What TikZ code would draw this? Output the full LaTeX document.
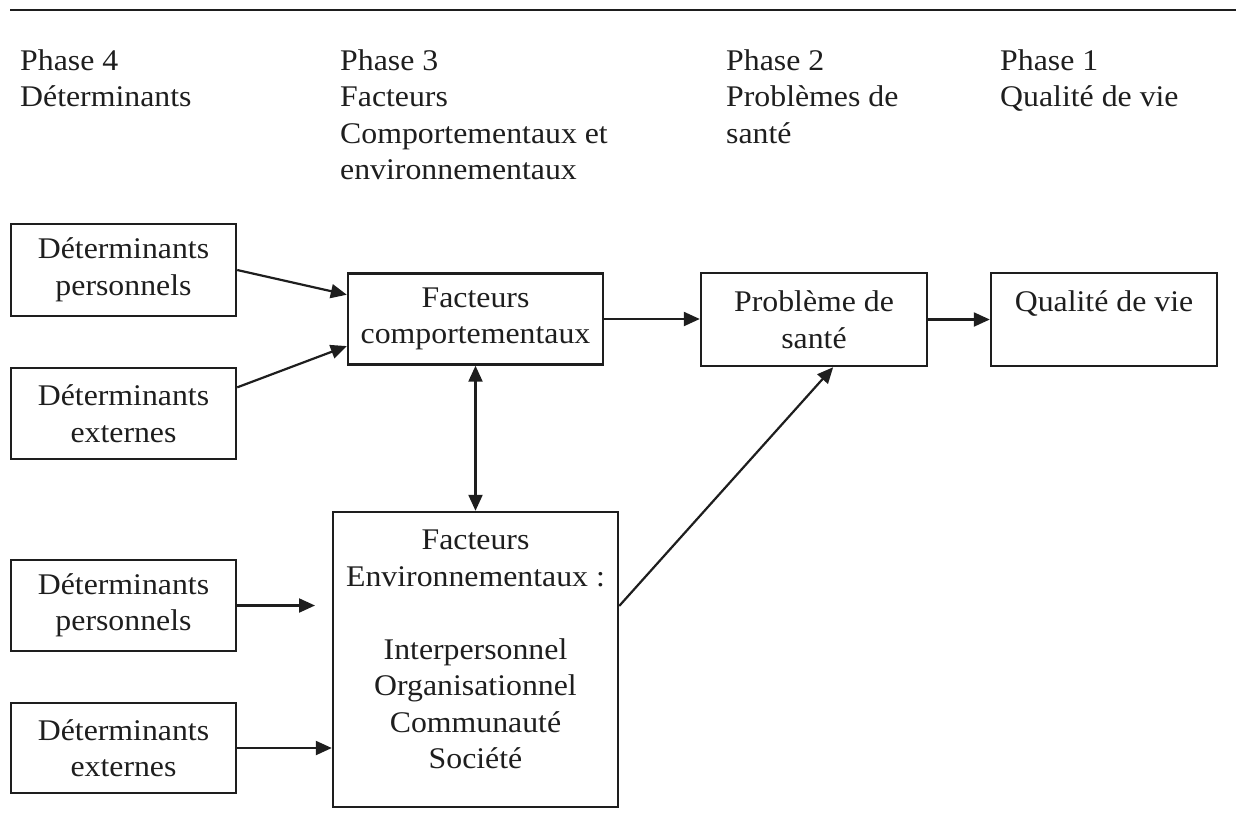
\documentclass[tikz,border=0pt]{standalone}
\usepackage{fontspec}
\setmainfont{Liberation Serif}[FakeStretch=1.06]
\usetikzlibrary{arrows.meta,calc}
\definecolor{ink}{RGB}{30,30,30}
\tikzset{
  txt/.style={font=\fontsize{30}{36.5}\selectfont, text=ink},
  hdr/.style={txt, align=left, anchor=north west, inner sep=0pt},
  boxn/.style={txt, draw=ink, line width=2.4pt, align=center, inner sep=0pt},
  conn/.style={draw=ink, line width=2.2pt, -{Triangle[length=16pt,width=14pt]}},
  dconn/.style={draw=ink, line width=2.2pt, {Triangle[length=16pt,width=14pt]}-{Triangle[length=16pt,width=14pt]}}
}
\begin{document}
\begin{tikzpicture}[x=1pt,y=-1pt]
\useasboundingbox (0,0) rectangle (1236,839);
\coordinate (r1) at (10,10);
\coordinate (r2) at (1236,10);
\draw[ink, line width=2.8pt] (r1) -- (r2);

\node[hdr] (h4) at (20,44.5) {\strut Phase 4\\Déterminants};
\node[hdr] (h3) at (340,44.5) {\strut Phase 3\\Facteurs\\Comportementaux et\\environnementaux};
\node[hdr] (h2) at (726,44.5) {\strut Phase 2\\Problèmes de\\santé};
\node[hdr] (h1) at (1000,44.5) {\strut Phase 1\\Qualité de vie};

\node[boxn, minimum width=225pt, minimum height=92pt] (dp1) at (123.5,270) {Déterminants\\personnels};
\node[boxn, minimum width=225pt, minimum height=91pt] (de1) at (123.5,413.5) {Déterminants\\externes};
\node[boxn, minimum width=225pt, minimum height=91pt] (dp2) at (123.5,605.5) {Déterminants\\personnels};
\node[boxn, minimum width=225pt, minimum height=90pt] (de2) at (123.5,748) {Déterminants\\externes};
\node[boxn, minimum width=255pt, minimum height=91pt] (fc) at (475.5,319) {Facteurs\\comportementaux};
\node[boxn, minimum width=226pt, minimum height=93pt] (ps) at (814,319.5) {Problème de\\santé};
\node[boxn, minimum width=226pt, minimum height=93pt] (qv) at (1104,319.5) {Qualité de vie\\\mbox{}};
\node[boxn, minimum width=285pt, minimum height=295pt] (env) at (475.5,659.5)
  {Facteurs\\Environnementaux :\\[36.5pt]Interpersonnel\\Organisationnel\\Communauté\\Société\rule[-20pt]{0pt}{20pt}};

\draw[conn] (dp1.east) -- ($(fc.north west)!0.24!(fc.south west)$);
\draw[conn] ($(de1.north east)!0.22!(de1.south east)$) -- ($(fc.north west)!0.79!(fc.south west)$);
\draw[conn] (fc.east) -- (ps.west |- fc.east);
\draw[conn] (ps.east) -- (qv.west);
\draw[dconn] (fc.south) -- (env.north);
\draw[conn] ($(env.north east)!0.32!(env.south east)$) -- ($(ps.south west)!0.584!(ps.south east)$);
\coordinate (dp2end) at (315,605.5);
\draw[conn] (dp2.east) -- (dp2end);
\draw[conn] (de2.east) -- (env.west |- de2.east);
\end{tikzpicture}
\end{document}
